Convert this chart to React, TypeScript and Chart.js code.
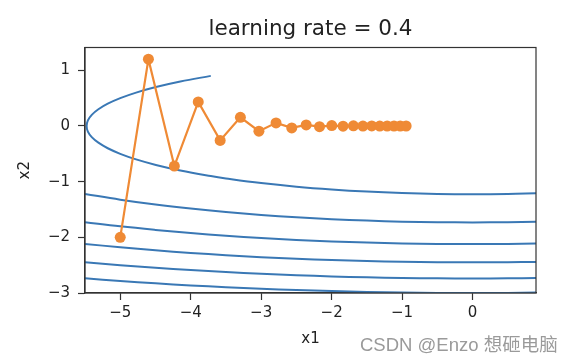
import React, { useEffect, useRef } from "react";
import { Chart, registerables } from "chart.js";

Chart.register(...registerables);

const titleText = "learning rate = 0.4";
const xLabel = "x1";
const yLabel = "x2";
const watermark = "CSDN @Enzo 想砸电脑";

const xTicks = [-5, -4, -3, -2, -1, 0];
const yTicks = [-3, -2, -1, 0, 1];

// gradient descent trace (x1, x2)
const traceX = [-5, -4.6, -4.232, -3.893, -3.582, -3.295, -3.032, -2.789, -2.566, -2.361, -2.172, -1.998, -1.838, -1.691, -1.556, -1.431, -1.317, -1.212, -1.115, -1.026, -0.943];
const traceY = [-2, 1.2, -0.72, 0.432, -0.259, 0.156, -0.093, 0.056, -0.034, 0.02, -0.012, 0.007, -0.004, 0.003, -0.002, 0.001, -0.001, 0, 0, 0, 0];

// contour level 3 (half ellipse + lower branch)
const level3X = [-3.715, -4.147, -4.494, -4.775, -5.0, -5.177, -5.31, -5.404, -5.459, -5.477, -5.459, -5.404, -5.31, -5.177, -5.0, -4.775, -4.494, -4.147, -3.715, -3.5, -3, -2.5, -2, -1.5, -1, -0.5, 0, 0.5, 0.9];
const level3Y = [0.9, 0.8, 0.7, 0.6, 0.5, 0.4, 0.3, 0.2, 0.1, 0, -0.1, -0.2, -0.3, -0.4, -0.5, -0.6, -0.7, -0.8, -0.9, -0.942, -1.025, -1.09, -1.14, -1.178, -1.204, -1.22, -1.225, -1.22, -1.208];

// lower contour branches sampled along x1
const lowerX = [-5.5, -5, -4.5, -4, -3.5, -3, -2.5, -2, -1.5, -1, -0.5, 0, 0.5, 0.9];
const level6Y = [-1.22, -1.323, -1.41, -1.483, -1.545, -1.597, -1.639, -1.673, -1.699, -1.718, -1.728, -1.732, -1.728, -1.72];
const level9Y = [-1.728, -1.803, -1.867, -1.924, -1.972, -2.012, -2.046, -2.074, -2.095, -2.11, -2.118, -2.121, -2.118, -2.112];
const level12Y = [-2.118, -2.179, -2.233, -2.28, -2.321, -2.356, -2.385, -2.408, -2.426, -2.439, -2.447, -2.449, -2.447, -2.441];
const level15Y = [-2.447, -2.5, -2.547, -2.588, -2.624, -2.655, -2.681, -2.702, -2.718, -2.729, -2.736, -2.739, -2.736, -2.731];
const level18Y = [-2.736, -2.784, -2.826, -2.864, -2.896, -2.924, -2.947, -2.966, -2.981, -2.992, -2.998, -3.0, -2.998, -2.993];

const FONT = "DejaVu Sans";
const TEXT = "#222222";
const AXIS = "#333333";
const BLUE = "#3a78b5";
const ORANGE = "#ef8a35";

const zip = (xs: number[], ys: number[]) => xs.map((x, i) => ({ x, y: ys[i] }));
const fmt = (v: number) => (v < 0 ? "\u2212" + Math.abs(v) : String(v));

const contourDs = (xs: number[], ys: number[]) => ({
  data: zip(xs, ys),
  borderColor: BLUE,
  borderWidth: 2,
  pointRadius: 0,
  tension: 0.4,
  showLine: true,
  fill: false,
  order: 2,
});

const boxPlugin = {
  id: "boxPlugin",
  afterDraw(chart: any) {
    const { ctx, chartArea: a } = chart;
    ctx.save();
    ctx.strokeStyle = AXIS;
    ctx.lineWidth = 1.2;
    ctx.strokeRect(a.left, a.top, a.right - a.left, a.bottom - a.top);
    ctx.restore();
  },
};

export default function App() {
  const ref = useRef<HTMLCanvasElement | null>(null);
  useEffect(() => {
    if (!ref.current) return;
    const chart = new Chart(ref.current, {
      type: "scatter",
      data: {
        datasets: [
          {
            data: zip(traceX, traceY),
            borderColor: ORANGE,
            backgroundColor: ORANGE,
            borderWidth: 2.2,
            pointRadius: 5.5,
            pointBorderWidth: 0,
            showLine: true,
            tension: 0,
            order: 0,
          },
          contourDs(level3X, level3Y),
          contourDs(lowerX, level6Y),
          contourDs(lowerX, level9Y),
          contourDs(lowerX, level12Y),
          contourDs(lowerX, level15Y),
          contourDs(lowerX, level18Y),
        ] as any,
      },
      options: {
        responsive: false,
        animation: false,
        layout: { padding: { left: 0, right: 36, top: 47.5, bottom: 0 } },
        plugins: {
          legend: { display: false },
          tooltip: { enabled: false },
          title: { display: false },
        },
        scales: {
          x: {
            type: "linear",
            min: -5.5,
            max: 0.9,
            afterBuildTicks: (s: any) => {
              s.ticks = xTicks.map((value) => ({ value }));
            },
            afterFit: (s: any) => {
              s.height = 71;
            },
            ticks: {
              color: TEXT,
              font: { family: FONT, size: 15 },
              padding: 4,
              maxRotation: 0,
              autoSkip: false,
              callback: (v: any) => fmt(Number(v)),
            },
            grid: { display: true, drawOnChartArea: false, drawTicks: true, tickLength: 7, tickColor: AXIS, tickWidth: 1.2 },
            border: { display: true, color: AXIS, width: 1.2 },
            title: {
              display: true,
              text: xLabel,
              color: TEXT,
              font: { family: FONT, size: 15 },
              padding: { top: 0, bottom: 16 },
            },
          },
          y: {
            type: "linear",
            min: -3,
            max: 1.41,
            afterBuildTicks: (s: any) => {
              s.ticks = yTicks.map((value) => ({ value }));
            },
            afterFit: (s: any) => {
              s.width = 85;
            },
            ticks: {
              color: TEXT,
              font: { family: FONT, size: 15 },
              padding: 8,
              autoSkip: false,
              callback: (v: any) => fmt(Number(v)),
            },
            grid: { display: true, drawOnChartArea: false, drawTicks: true, tickLength: 7, tickColor: AXIS, tickWidth: 1.2 },
            border: { display: true, color: AXIS, width: 1.2 },
            title: {
              display: true,
              text: yLabel,
              color: TEXT,
              font: { family: FONT, size: 15 },
              padding: { top: 16, bottom: 0 },
            },
          },
        },
      } as any,
      plugins: [boxPlugin],
    });
    return () => chart.destroy();
  }, []);

  return (
    <div style={{ position: "absolute", left: 0, top: 0, width: 572, height: 364, background: "#fff" }}>
      <canvas ref={ref} width={572} height={364} style={{ display: "block", width: 572, height: 364 }} />
      <div
        style={{
          position: "absolute",
          left: 85,
          width: 451,
          top: 15,
          textAlign: "center",
          fontFamily: FONT,
          fontSize: 21.5,
          lineHeight: "26px",
          color: TEXT,
          whiteSpace: "nowrap",
        }}
      >
        {titleText}
      </div>
      <div
        style={{
          position: "absolute",
          left: 360,
          top: 334,
          fontFamily: '"Liberation Sans", "Noto Sans CJK SC", sans-serif',
          fontSize: 18.5,
          lineHeight: "22px",
          color: "#9a9a9a",
          whiteSpace: "nowrap",
        }}
      >
        {watermark}
      </div>
    </div>
  );
}
